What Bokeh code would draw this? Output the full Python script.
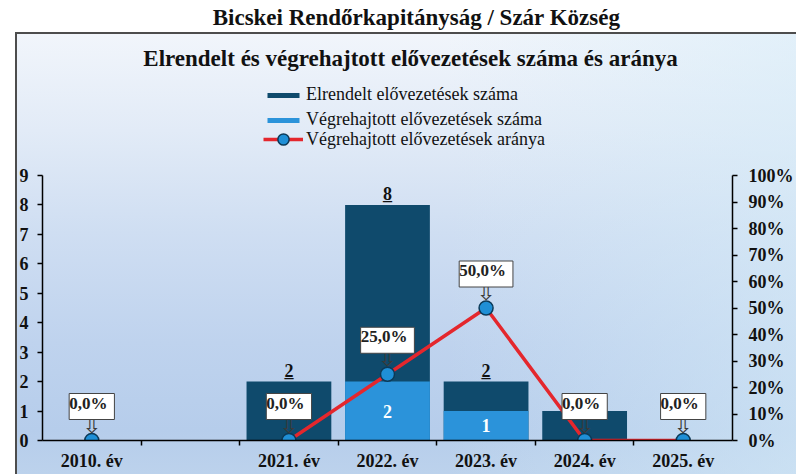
from bokeh.plotting import figure
from bokeh.models import (Range1d, LinearAxis, FixedTicker, ColumnDataSource,
                          Label, Legend, LegendItem)
from bokeh.core.properties import value
from bokeh.embed import file_html
from bokeh.resources import INLINE

# ---------------- data ----------------
categories = ["2010. év", "", "2021. év", "2022. év", "2023. év", "2024. év", "2025. év"]
elrendelt = [0, None, 2, 8, 2, 1, 0]            # ordered
vegrehajtott = [0, None, 0, 2, 1, 0, 0]         # executed
arany = [0.0, None, 0.0, 25.0, 50.0, 0.0, 0.0]  # executed ratio, %
y_ticks = [0, 1, 2, 3, 4, 5, 6, 7, 8, 9]
pct_ticks = [0, 10, 20, 30, 40, 50, 60, 70, 80, 90, 100]
series_names = ["Elrendelt elővezetések száma",
                "Végrehajtott elővezetések száma",
                "Végrehajtott elővezetések aránya"]
main_title = "Bicskei Rendőrkapitányság / Szár Község"
chart_title = "Elrendelt és végrehajtott elővezetések száma és aránya"

# ---------------- styling ----------------
SERIF = "Liberation Serif"
DARK = "#0f4a6c"
LIGHT = "#2b93da"
RED = "#e4272d"
MARK = "#1f8fd6"
MARK_EDGE = "#0c3a58"

W, H = 796, 474
FL, FR, FT, FB = 42, 61, 0, 34          # frame: x 42..735, y 0..440
frame_h = H - FT - FB                   # 440
axis_h = 265                            # pixel height of the 0..9 axis
y_end = 9 * frame_h / axis_h
pct_end = 100 * frame_h / axis_h

bg = ("linear-gradient(#4d4d4d,#4d4d4d) 16px 32px / 780px 2px no-repeat, "
      "linear-gradient(#4d4d4d,#4d4d4d) 15px 32px / 2px 442px no-repeat, "
      "linear-gradient(to right, rgba(214,236,248,0) 55%, rgba(214,236,248,0.55) 100%) "
      "17px 34px / 779px 440px no-repeat, "
      "linear-gradient(to bottom, #f1f5fb 0%, #e2ebf7 22%, #cfdef2 45%, #bfd3ee 70%, "
      "#b6cdeb 90%, #bcd2ec 100%) 17px 34px / 779px 440px no-repeat, #ffffff")

p = figure(width=W, height=H, output_backend="svg", toolbar_location=None,
           x_range=Range1d(0, len(categories)), y_range=Range1d(0, y_end),
           min_border_left=FL, min_border_right=FR, min_border_top=FT,
           min_border_bottom=FB, border_fill_color=None,
           background_fill_color=None, outline_line_color=None,
           styles={"background": bg})
p.extra_y_ranges = {"pct": Range1d(0, pct_end)}
p.grid.visible = False

# ---------------- data sources ----------------
xpos = [i + 0.5 for i in range(len(categories))]
idx = [i for i in range(len(categories)) if elrendelt[i] is not None]

bars = ColumnDataSource(dict(x=[xpos[i] for i in idx],
                             total=[elrendelt[i] for i in idx],
                             done=[vegrehajtott[i] for i in idx]))
dark_r = p.vbar(x="x", top="total", bottom=0, width=0.86, source=bars,
                fill_color=DARK, line_color=None)
light_r = p.vbar(x="x", top="done", bottom=0, width=0.86, source=bars,
                 fill_color=LIGHT, line_color=None)

# totals above bars (underlined)
tidx = [i for i in idx if elrendelt[i] > 0]
tot_src = ColumnDataSource(dict(x=[xpos[i] for i in tidx], y=[elrendelt[i] for i in tidx],
                                t=[str(elrendelt[i]) for i in tidx],
                                u=["_" for i in tidx]))
for col in ("t", "u"):
    p.text(x="x", y="y", text=col, source=tot_src, text_align="center",
           text_baseline="alphabetic", y_offset=-11, text_font=value(SERIF),
           text_font_style="bold", text_font_size="18px", text_color="#111111")

# executed labels inside light bars
didx = [i for i in idx if vegrehajtott[i] > 0]
in_src = ColumnDataSource(dict(x=[xpos[i] for i in didx],
                               y=[vegrehajtott[i] / 2 for i in didx],
                               t=[str(vegrehajtott[i]) for i in didx]))
p.text(x="x", y="y", text="t", source=in_src, text_align="center",
       text_baseline="middle", text_font=value(SERIF), text_font_style="bold",
       text_font_size="18px", text_color="white")

# ratio line (broken at the empty slot) and markers
line_src = ColumnDataSource(dict(x=xpos, y=[float("nan") if v is None else v for v in arany]))
line_r = p.line(x="x", y="y", source=line_src, y_range_name="pct",
                line_color=RED, line_width=3.5)
pidx = [i for i in range(len(categories)) if arany[i] is not None]
pt_src = ColumnDataSource(dict(x=[xpos[i] for i in pidx], y=[arany[i] for i in pidx],
                               t=[("%.1f%%" % arany[i]).replace(".", ",") for i in pidx],
                               a=["⇩" for i in pidx]))
mark_r = p.scatter(x="x", y="y", source=pt_src, y_range_name="pct", size=14,
                   fill_color=MARK, line_color=MARK_EDGE, line_width=1.5)

# callouts
p.text(x="x", y="y", text="a", source=pt_src, y_range_name="pct", text_align="center",
       text_baseline="middle", y_offset=-16, text_font=value("DejaVu Sans"),
       text_font_size="23px", text_color="#3a3a3a")
p.text(x="x", y="y", text="t", source=pt_src, y_range_name="pct", text_align="center",
       text_baseline="middle", y_offset=-34, text_font=value(SERIF),
       text_font_style="bold", text_font_size="17px", text_color="#222222",
       background_fill_color="white", border_line_color="#444444",
       border_line_width=1, padding=(0, 7, 0, 7))

# ---------------- axes ----------------
ax = p.xaxis[0]
ax.ticker = FixedTicker(ticks=xpos, minor_ticks=[i for i in range(1, len(categories))])
ax.major_label_overrides = {x: c for x, c in zip(xpos, categories)}
ax.major_tick_line_color = None
ax.major_tick_out = 0
ax.major_tick_in = 0
ax.minor_tick_out = 5
ax.minor_tick_in = 0
ax.minor_tick_line_color = "black"
ax.minor_tick_line_width = 1.5
ax.major_label_standoff = 5

ay = p.yaxis[0]
ay.ticker = FixedTicker(ticks=y_ticks)
ay.bounds = (0, 9)
ay.major_tick_out = 5
ay.major_tick_in = 0
ay.minor_tick_line_color = None
ay.major_label_standoff = 9

ar = LinearAxis(y_range_name="pct", ticker=FixedTicker(ticks=pct_ticks), bounds=(0, 100),
                major_label_overrides={t: "%d%%" % t for t in pct_ticks})
ar.major_tick_out = 5
ar.major_tick_in = 0
ar.minor_tick_line_color = None
ar.major_label_standoff = 11
p.add_layout(ar, "right")

for a in (ax, ay, ar):
    a.axis_line_color = "black"
    a.axis_line_width = 1.5
    a.major_tick_line_width = 1.5
    a.major_label_text_font = SERIF
    a.major_label_text_font_style = "bold"
    a.major_label_text_font_size = "18px"
    a.major_label_text_color = "#111111"

# ---------------- titles ----------------
p.add_layout(Label(x=374, y=frame_h - 17, x_units="screen", y_units="screen",
                   text=main_title, text_align="center", text_baseline="alphabetic",
                   text_font=SERIF, text_font_style="bold", text_font_size="23px",
                   text_color="#111111"))
p.add_layout(Label(x=368, y=frame_h - 58, x_units="screen", y_units="screen",
                   text=chart_title, text_align="center", text_baseline="alphabetic",
                   text_font=SERIF, text_font_style="bold", text_font_size="23px",
                   text_color="#111111"))

# ---------------- legends ----------------
common = dict(glyph_width=40, padding=0, label_standoff=3, border_line_color=None,
              background_fill_alpha=0, label_text_font=SERIF,
              label_text_font_size="18px", label_text_color="#111111", margin=0)
leg1 = Legend(items=[LegendItem(label=series_names[0], renderers=[dark_r]),
                     LegendItem(label=series_names[1], renderers=[light_r])],
              location=(221, 310), glyph_height=6, label_height=18, spacing=4, **common)
leg2 = Legend(items=[LegendItem(label=series_names[2], renderers=[line_r, mark_r])],
              location=(221, 287), glyph_height=28, label_height=18, **common)
p.add_layout(leg1)
p.add_layout(leg2)

open("out.html", "w").write(file_html(p, INLINE))
